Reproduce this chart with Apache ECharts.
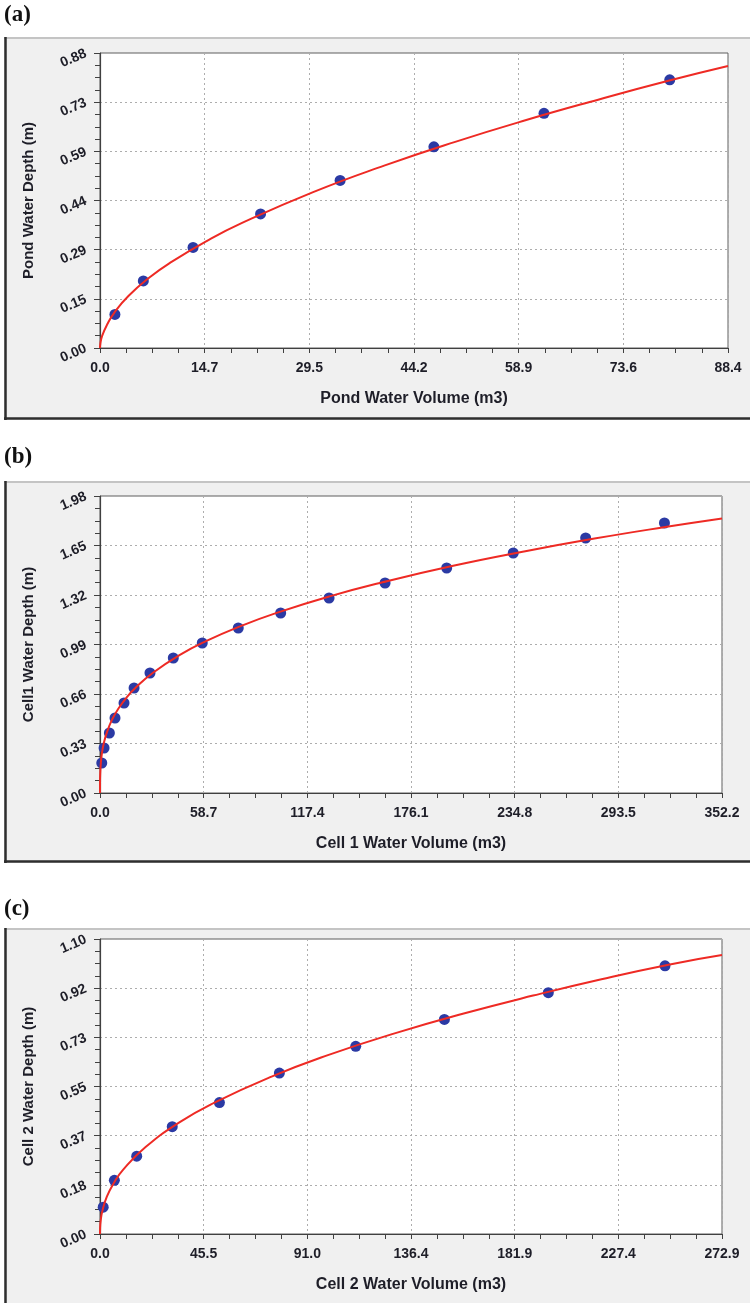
<!DOCTYPE html>
<html><head><meta charset="utf-8">
<script src="https://cdn.jsdelivr.net/npm/echarts@6/dist/echarts.min.js"></script>
<style>html,body{margin:0;padding:0;background:#fff}#c{width:750px;height:1303px}</style>
</head><body><div id="c"></div>
<script>
// ---------- Panel (a): Pond ----------
const pondVolume = [2.1, 6.1, 13.1, 22.6, 33.8, 47.0, 62.5, 80.2];
const pondDepth  = [0.10, 0.20, 0.30, 0.40, 0.50, 0.60, 0.70, 0.80];
const pondCurveVolume = [0, 0.05, 0.3, 1, 2, 4, 7, 10, 15, 20, 30, 40, 50, 60, 70, 80, 88.4];
const pondCurveDepth  = [0, 0.013, 0.036, 0.070, 0.105, 0.155, 0.211, 0.256, 0.319, 0.373, 0.465, 0.544, 0.615, 0.680, 0.740, 0.797, 0.841];
const pondXTicks = ['0.0', '14.7', '29.5', '44.2', '58.9', '73.6', '88.4'];
const pondYTicks = ['0.00', '0.15', '0.29', '0.44', '0.59', '0.73', '0.88'];

// ---------- Panel (b): Cell 1 ----------
const cell1Volume = [1.0, 2.3, 5.3, 8.5, 13.6, 19.3, 28.3, 41.5, 57.9, 78.3, 102.3, 129.7, 161.4, 196.3, 234.0, 275.0, 319.6];
const cell1Depth  = [0.20, 0.30, 0.40, 0.50, 0.60, 0.70, 0.80, 0.90, 1.00, 1.10, 1.20, 1.30, 1.40, 1.50, 1.60, 1.70, 1.80];
const cell1CurveVolume = [0, 0.003, 0.02, 0.1, 0.5, 1, 2, 4, 7, 10, 15, 20, 30, 45, 60, 80, 100, 130, 160, 200, 240, 280, 320, 352.2];
const cell1CurveDepth  = [0, 0.037, 0.069, 0.119, 0.204, 0.257, 0.324, 0.408, 0.493, 0.555, 0.636, 0.700, 0.802, 0.919, 1.012, 1.114, 1.201, 1.311, 1.405, 1.515, 1.610, 1.696, 1.773, 1.830];
const cell1XTicks = ['0.0', '58.7', '117.4', '176.1', '234.8', '293.5', '352.2'];
const cell1YTicks = ['0.00', '0.33', '0.66', '0.99', '1.32', '1.65', '1.98'];

// ---------- Panel (c): Cell 2 ----------
const cell2Volume = [1.4, 6.3, 16.1, 31.7, 52.4, 78.7, 112.2, 151.1, 196.7, 247.9];
const cell2Depth  = [0.10, 0.20, 0.29, 0.40, 0.49, 0.60, 0.70, 0.80, 0.90, 1.00];
const cell2CurveVolume = [0, 0.05, 0.3, 1, 3, 6, 10, 20, 35, 50, 75, 100, 130, 160, 190, 220, 250, 272.9];
const cell2CurveDepth  = [0, 0.022, 0.049, 0.085, 0.139, 0.189, 0.238, 0.324, 0.417, 0.489, 0.586, 0.667, 0.750, 0.823, 0.889, 0.950, 1.005, 1.040];
const cell2XTicks = ['0.0', '45.5', '91.0', '136.4', '181.9', '227.4', '272.9'];
const cell2YTicks = ['0.00', '0.18', '0.37', '0.55', '0.73', '0.92', '1.10'];

const panelLabels = ['(a)', '(b)', '(c)'];
const xNames = ['Pond Water Volume (m3)', 'Cell 1 Water Volume (m3)', 'Cell 2 Water Volume (m3)'];
const yNames = ['Pond Water Depth (m)', 'Cell1 Water Depth (m)', 'Cell 2 Water Depth (m)'];

const panels = [
  {px: pondVolume, py: pondDepth, cx: pondCurveVolume, cy: pondCurveDepth, xt: pondXTicks, yt: pondYTicks, xmax: 88.4, ymax: 0.88,
   grid: {left: 100, top: 53, width: 628, height: 295}, frame: {top: 37, bottom: 420}, labelY: 15.5},
  {px: cell1Volume, py: cell1Depth, cx: cell1CurveVolume, cy: cell1CurveDepth, xt: cell1XTicks, yt: cell1YTicks, xmax: 352.2, ymax: 1.98,
   grid: {left: 100, top: 496, width: 622, height: 297}, frame: {top: 481, bottom: 863}, labelY: 457.5},
  {px: cell2Volume, py: cell2Depth, cx: cell2CurveVolume, cy: cell2CurveDepth, xt: cell2XTicks, yt: cell2YTicks, xmax: 272.9, ymax: 1.10,
   grid: {left: 100, top: 939, width: 622, height: 295}, frame: {top: 928, bottom: null}, labelY: 909}
];

const FONT = "'Liberation Sans', Arial, sans-serif";
const TXT = '#1e1e28';
const AX = '#404040';

const grids = [], xAxes = [], yAxes = [], series = [], graphics = [];

panels.forEach((p, i) => {
  grids.push(Object.assign({show: true, backgroundColor: '#ffffff', borderColor: '#5e5e5e', borderWidth: 1}, p.grid));
  const xi = p.xmax / 6, yi = p.ymax / 6;
  xAxes.push({
    type: 'value', gridIndex: i, min: 0, max: p.xmax, interval: xi,
    name: xNames[i], nameLocation: 'middle', nameGap: 43,
    nameTextStyle: {fontFamily: FONT, fontWeight: 'bold', fontSize: 16, color: TXT},
    axisLine: {show: true, onZero: false, lineStyle: {color: AX, width: 1.2}},
    axisTick: {show: true, length: 5, lineStyle: {color: AX, width: 1}},
    minorTick: {show: true, splitNumber: 4, length: 5, lineStyle: {color: AX, width: 1}},
    splitLine: {show: true, lineStyle: {color: '#adadad', type: [2, 3], width: 1}},
    axisLabel: {margin: 13, fontFamily: FONT, fontWeight: 'bold', fontSize: 14, color: TXT,
      formatter: v => p.xt[Math.round(v / xi)] ?? ''}
  });
  yAxes.push({
    type: 'value', gridIndex: i, min: 0, max: p.ymax, interval: yi,
    name: yNames[i], nameLocation: 'middle', nameGap: 64,
    nameTextStyle: {fontFamily: FONT, fontWeight: 'bold', fontSize: 15, color: TXT},
    axisLine: {show: true, onZero: false, lineStyle: {color: AX, width: 1.2}},
    axisTick: {show: true, length: 6, lineStyle: {color: AX, width: 1}},
    minorTick: {show: true, splitNumber: 4, length: 5, lineStyle: {color: AX, width: 1}},
    splitLine: {show: true, lineStyle: {color: '#adadad', type: [2, 3], width: 1}},
    axisLabel: {margin: 14, rotate: 23, fontFamily: FONT, fontWeight: 'bold', fontSize: 14, color: TXT,
      formatter: v => p.yt[Math.round(v / yi)] ?? ''}
  });
  series.push({
    type: 'scatter', xAxisIndex: i, yAxisIndex: i, z: 2,
    symbol: 'circle', symbolSize: 11, itemStyle: {color: '#2b3aa4', opacity: 1},
    data: p.px.map((x, k) => [x, p.py[k]])
  });
  series.push({
    type: 'line', xAxisIndex: i, yAxisIndex: i, z: 3,
    showSymbol: false, smooth: 0.5,
    lineStyle: {color: '#ee2a24', width: 2},
    data: p.cx.map((x, k) => [x, p.cy[k]])
  });
  // frame decoration
  const fb = p.frame.bottom === null ? 1303 : p.frame.bottom;
  graphics.push({type: 'rect', z: -10, silent: true, shape: {x: 4, y: p.frame.top, width: 746, height: fb - p.frame.top}, style: {fill: '#f0f0f0'}});
  graphics.push({type: 'line', z: -9, silent: true, shape: {x1: 4, y1: p.frame.top + 1, x2: 750, y2: p.frame.top + 1}, style: {stroke: '#c4c4c4', lineWidth: 2}});
  graphics.push({type: 'line', z: -9, silent: true, shape: {x1: 5.5, y1: p.frame.top, x2: 5.5, y2: fb}, style: {stroke: '#2e2e2e', lineWidth: 2.5}});
  if (p.frame.bottom !== null) {
    graphics.push({type: 'line', z: -9, silent: true, shape: {x1: 4, y1: fb - 1.5, x2: 750, y2: fb - 1.5}, style: {stroke: '#2e2e2e', lineWidth: 2.5}});
  }
  graphics.push({type: 'text', z: 5, silent: true, x: 4, y: p.labelY,
    style: {text: panelLabels[i], fill: '#111', font: "bold 23px 'Liberation Serif', 'Times New Roman', serif", textVerticalAlign: 'middle', verticalAlign: 'middle'}});
});

const chart = echarts.init(document.getElementById('c'), null, {renderer: 'canvas'});
chart.setOption({
  animation: false,
  backgroundColor: '#ffffff',
  grid: grids, xAxis: xAxes, yAxis: yAxes, series: series,
  graphic: {elements: graphics}
});
</script></body></html>
